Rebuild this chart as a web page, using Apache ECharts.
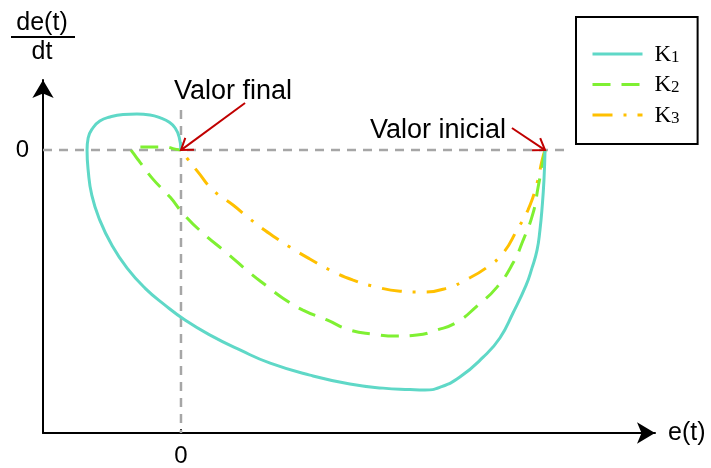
<!DOCTYPE html>
<html>
<head>
<meta charset="utf-8">
<script src="https://cdn.jsdelivr.net/npm/echarts@6/dist/echarts.min.js"></script>
<style>
  html, body { margin: 0; padding: 0; background: #fff; }
  #chart { width: 711px; height: 468px; }
</style>
</head>
<body>
<div id="chart"></div>
<script>
// Phase-plane trajectories: error e(t) (normalised to its initial value)
// against its derivative de(t)/dt (normalised to the deepest K1 point).
const seriesNames = ['K1', 'K2', 'K3'];

const k1E  = [1.000, 0.997, 0.992, 0.986, 0.978, 0.964, 0.948, 0.912, 0.876, 0.830, 0.766, 0.712, 0.670, 0.629, 0.555, 0.464, 0.354, 0.245, 0.162, 0.080, 0.011, -0.044, -0.099, -0.148, -0.190, -0.223, -0.245, -0.255, -0.258, -0.255, -0.242, -0.223, -0.195, -0.159, -0.121, -0.085, -0.055, -0.033, -0.016, -0.005, 0];
const k1De = [0, -0.125, -0.238, -0.333, -0.417, -0.492, -0.563, -0.679, -0.783, -0.863, -0.946, -0.988, -1.000, -0.998, -0.992, -0.975, -0.938, -0.888, -0.833, -0.771, -0.708, -0.646, -0.575, -0.492, -0.396, -0.292, -0.188, -0.083, 0, 0.050, 0.092, 0.121, 0.138, 0.148, 0.150, 0.146, 0.133, 0.117, 0.092, 0.054, 0];

const k2E  = [1.000, 0.995, 0.981, 0.967, 0.940, 0.912, 0.868, 0.813, 0.758, 0.703, 0.648, 0.593, 0.527, 0.464, 0.401, 0.335, 0.280, 0.236, 0.190, 0.126, 0.060, 0.005, -0.030, -0.077, -0.113, -0.129, -0.137, -0.121, -0.085, -0.044, -0.016, 0];
const k2De = [0, -0.042, -0.154, -0.263, -0.375, -0.471, -0.571, -0.650, -0.717, -0.750, -0.771, -0.775, -0.767, -0.750, -0.708, -0.667, -0.617, -0.567, -0.513, -0.429, -0.346, -0.263, -0.196, -0.121, -0.050, -0.017, 0.004, 0.013, 0.013, 0.013, 0.004, 0];

const k3E  = [1.000, 0.992, 0.978, 0.953, 0.923, 0.885, 0.841, 0.786, 0.731, 0.665, 0.602, 0.538, 0.473, 0.409, 0.354, 0.299, 0.245, 0.190, 0.143, 0.088, 0.047, 0.016, 0];
const k3De = [0, -0.042, -0.138, -0.250, -0.333, -0.429, -0.488, -0.538, -0.575, -0.592, -0.588, -0.571, -0.542, -0.500, -0.454, -0.404, -0.350, -0.288, -0.229, -0.167, -0.092, -0.033, 0];

// Reference lines through the origin
const zeroLineE  = [-0.379, 1.065];
const zeroLineDe = [0.167, -1.179];

// Annotation arrows: [fromE, fromDe, toE, toDe]
const arrowFinal   = [0.176, 0.196, 0, 0];
const arrowInitial = [0.909, 0.092, 1, 0];
const annotationTexts = ['Valor final', 'Valor inicial'];

const zip = (xs, ys) => xs.map((x, i) => [x, ys[i]]);

const colors = ['#5fd8c7', '#7ff032', '#ffc000'];
const dashes = ['solid', [18, 11], [20, 11, 3, 11]];
const curves = [zip(k1E, k1De), zip(k2E, k2De), zip(k3E, k3De)];

const sans = '"Liberation Sans", Arial, sans-serif';
const serif = '"Liberation Serif", "Times New Roman", serif';

const chart = echarts.init(document.getElementById('chart'), null, { renderer: 'canvas' });

const curveSeries = seriesNames.map((name, i) => ({
  name: name,
  type: 'line',
  data: curves[i],
  smooth: 0.5,
  showSymbol: false,
  symbol: 'none',
  z: 5 - i,
  color: colors[i],
  lineStyle: { color: colors[i], width: 3, type: dashes[i] },
  animation: false
}));

const dashedGuide = {
  type: 'line',
  color: '#a6a6a6',
  lineStyle: { color: '#a6a6a6', width: 2.5, type: [9, 7] },
  symbol: 'none',
  silent: true,
  animation: false,
  z: 1
};

const option = {
  animation: false,
  grid: { left: 43, right: 56, top: 80, bottom: 35, containLabel: false },
  xAxis: {
    type: 'value',
    min: -0.379,
    max: 1.302,
    name: 'e(t)',
    nameLocation: 'end',
    nameGap: 13,
    nameTextStyle: { fontFamily: sans, fontSize: 25, color: '#000', verticalAlign: 'middle' },
    axisLine: { onZero: false, symbol: ['none', 'arrow'], symbolSize: [16, 18], lineStyle: { color: '#000', width: 2 } },
    axisTick: { show: true, inside: true, length: 4, customValues: [0], lineStyle: { color: '#000', width: 1.5 } },
    axisLabel: { customValues: [0], margin: 11, fontFamily: sans, fontSize: 24, color: '#000' },
    splitLine: { show: false }
  },
  yAxis: {
    type: 'value',
    min: -1.179,
    max: 0.292,
    axisLine: { onZero: false, symbol: ['none', 'arrow'], symbolSize: [16, 18], lineStyle: { color: '#000', width: 2 } },
    axisTick: { show: true, inside: true, length: 4, customValues: [0], lineStyle: { color: '#000', width: 1.5 } },
    axisLabel: { customValues: [0], margin: 14, fontFamily: sans, fontSize: 24, color: '#000' },
    splitLine: { show: false }
  },
  legend: {
    data: seriesNames,
    orient: 'vertical',
    left: 576,
    top: 17,
    padding: [26, 18, 17, 15],
    itemWidth: 50,
    itemHeight: 14,
    itemGap: 7.5,
    borderColor: '#000',
    borderWidth: 2,
    backgroundColor: '#fff',
    itemStyle: { opacity: 0 },
    lineStyle: { width: 3 },
    formatter: name => '{k|K}{s|' + name.slice(1) + '}',
    textStyle: {
      color: '#000',
      rich: {
        k: { fontFamily: serif, fontSize: 23, lineHeight: 24, color: '#000', verticalAlign: 'bottom', padding: [0, 0, 0, 7] },
        s: { fontFamily: serif, fontSize: 17, lineHeight: 24, color: '#000', verticalAlign: 'bottom' }
      }
    }
  },
  series: [
    Object.assign({}, dashedGuide, { data: zip(zeroLineE, [0, 0]) }),
    Object.assign({}, dashedGuide, { data: zip([0, 0], zeroLineDe) }),
    ...curveSeries,
    {
      type: 'custom',
      silent: true,
      animation: false,
      z: 10,
      data: [arrowFinal, arrowInitial],
      encode: { x: [0, 2], y: [1, 3] },
      renderItem: function (params, api) {
        const p0 = api.coord([api.value(0), api.value(1)]);
        const p1 = api.coord([api.value(2), api.value(3)]);
        const ang = Math.atan2(p1[1] - p0[1], p1[0] - p0[0]);
        const len = 13, spread = 0.6;
        const h1 = [p1[0] - len * Math.cos(ang - spread), p1[1] - len * Math.sin(ang - spread)];
        const h2 = [p1[0] - len * Math.cos(ang + spread), p1[1] - len * Math.sin(ang + spread)];
        const st = { stroke: '#c00000', lineWidth: 2, fill: null };
        return {
          type: 'group',
          children: [
            { type: 'line', shape: { x1: p0[0], y1: p0[1], x2: p1[0], y2: p1[1] }, style: st },
            { type: 'polyline', shape: { points: [h1, p1, h2] }, style: st }
          ]
        };
      }
    }
  ],
  graphic: [
    // y-axis title written as a fraction
    { type: 'text', x: 42, y: 23, style: { text: 'de(t)', font: '25px ' + sans, fill: '#000', align: 'center', verticalAlign: 'middle' } },
    { type: 'line', shape: { x1: 11, y1: 37, x2: 75, y2: 37 }, style: { stroke: '#000', lineWidth: 2 } },
    { type: 'text', x: 42, y: 52, style: { text: 'dt', font: '25px ' + sans, fill: '#000', align: 'center', verticalAlign: 'middle' } },
    // annotation captions
    { type: 'text', x: 233, y: 92, style: { text: annotationTexts[0], font: '27px ' + sans, fill: '#000', align: 'center', verticalAlign: 'middle' } },
    { type: 'text', x: 438, y: 131, style: { text: annotationTexts[1], font: '27px ' + sans, fill: '#000', align: 'center', verticalAlign: 'middle' } }
  ]
};

chart.setOption(option);
</script>
</body>
</html>
